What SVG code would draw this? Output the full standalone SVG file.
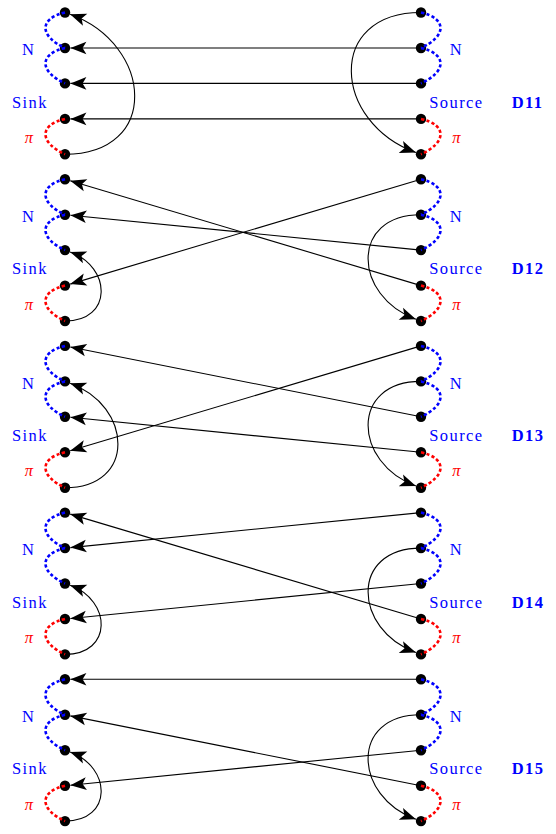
<svg xmlns="http://www.w3.org/2000/svg" width="556" height="834" viewBox="0 0 556 834">
  <defs>
    <marker id="ah" markerUnits="userSpaceOnUse" markerWidth="18" markerHeight="14" refX="16" refY="6.5" orient="auto" overflow="visible">
      <path d="M16,6.5 L0,0.2 L3.8,6.5 L0,12.8 Z" fill="#000"/>
    </marker>
    <style>
      .bg { fill: #fff; }
      .ln { fill: none; stroke: #000; stroke-width: 1.1; marker-end: url(#ah); }
      .node { fill: #000; }
      .ch { fill: none; stroke-width: 2.6; stroke-dasharray: 3.2 2.3; }
      .ch.b { stroke: #0000ff; }
      .ch.r { stroke: #ff0000; }
      .lbl { font-family: "Liberation Serif", "Times New Roman", serif; font-size: 16.5px; letter-spacing: 1.4px; }
      .blue { fill: #0000ff; }
      .red { fill: #ff0000; }
      .ttl { font-weight: bold; }
      .pi { font-style: italic; letter-spacing: 0; }
      .mid { text-anchor: middle; }
    </style>
  </defs>
  <rect class="bg" x="0" y="0" width="556" height="834"/>

  <!-- connectors: straight links right to left, and the bent links on each side -->
  <g id="connectors">
    <!-- D11 -->
    <path class="ln" d="M421,48 L70.4,48"/>
    <path class="ln" d="M421,83.4 L70.4,83.4"/>
    <path class="ln" d="M421,118.9 L70.4,118.9"/>
    <path class="ln" d="M65,154.3 C160.7,154.3 153.4,44.6 70.1,14.3"/>
    <path class="ln" d="M421,12.5 C325.3,12.5 332.6,122.2 415.9,152.5"/>
    <!-- D12 -->
    <path class="ln" d="M421,179.2 L70.2,284.1"/>
    <path class="ln" d="M421,250.1 L70.4,215.2"/>
    <path class="ln" d="M421,285.6 L70.2,180.7"/>
    <path class="ln" d="M65,321 C112.9,321 111.8,267.1 70.1,251.9"/>
    <path class="ln" d="M421,214.7 C349.2,214.7 353.4,296.5 415.9,319.2"/>
    <!-- D13 -->
    <path class="ln" d="M421,416.8 L70.3,347"/>
    <path class="ln" d="M421,452.3 L70.4,417.3"/>
    <path class="ln" d="M421,345.9 L70.2,450.8"/>
    <path class="ln" d="M65,487.7 C136.8,487.7 132.6,405.9 70.1,383.2"/>
    <path class="ln" d="M421,381.4 C349.2,381.4 353.4,463.2 415.9,485.9"/>
    <!-- D14 -->
    <path class="ln" d="M421,619 L70.2,514.1"/>
    <path class="ln" d="M421,512.6 L70.4,547.6"/>
    <path class="ln" d="M421,583.5 L70.4,618.5"/>
    <path class="ln" d="M65,654.4 C112.9,654.4 111.8,600.5 70.1,585.3"/>
    <path class="ln" d="M421,548.1 C349.2,548.1 353.4,629.9 415.9,652.6"/>
    <!-- D15 -->
    <path class="ln" d="M421,679.3 L70.4,679.3"/>
    <path class="ln" d="M421,785.7 L70.3,715.9"/>
    <path class="ln" d="M421,750.2 L70.4,785.2"/>
    <path class="ln" d="M65,821.1 C112.9,821.1 111.8,767.2 70.1,752"/>
    <path class="ln" d="M421,714.8 C349.2,714.8 353.4,796.6 415.9,819.3"/>
  </g>

  <!-- D11 -->
  <g id="d11">
    <g id="d11-sink-1"><circle class="node" cx="65" cy="12.5" r="5.2"/></g>
    <g id="d11-sink-2"><circle class="node" cx="65" cy="48" r="5.2"/></g>
    <g id="d11-sink-3"><circle class="node" cx="65" cy="83.4" r="5.2"/></g>
    <g id="d11-sink-4"><circle class="node" cx="65" cy="118.9" r="5.2"/></g>
    <g id="d11-sink-5"><circle class="node" cx="65" cy="154.3" r="5.2"/></g>
    <g id="d11-source-1"><circle class="node" cx="421" cy="12.5" r="5.2"/></g>
    <g id="d11-source-2"><circle class="node" cx="421" cy="48" r="5.2"/></g>
    <g id="d11-source-3"><circle class="node" cx="421" cy="83.4" r="5.2"/></g>
    <g id="d11-source-4"><circle class="node" cx="421" cy="118.9" r="5.2"/></g>
    <g id="d11-source-5"><circle class="node" cx="421" cy="154.3" r="5.2"/></g>
    <path class="ch b" d="M65,12.5 C39,18.5 39,36 65,48"/>
    <path class="ch b" d="M65,48 C39,54 39,71.4 65,83.4"/>
    <path class="ch r" d="M65,118.9 C39,124.9 39,142.3 65,154.3"/>
    <path class="ch b" d="M421,12.5 C447,18.5 447,36 421,48"/>
    <path class="ch b" d="M421,48 C447,54 447,71.4 421,83.4"/>
    <path class="ch r" d="M421,118.9 C447,124.9 447,142.3 421,154.3"/>
    <text class="lbl blue mid" x="28.7" y="55.3">N</text>
    <text class="lbl blue" x="12" y="107.5">Sink</text>
    <text class="lbl red pi mid" x="29" y="143">π</text>
    <text class="lbl blue mid" x="456.5" y="55.3">N</text>
    <text class="lbl blue" x="429.3" y="107.5">Source</text>
    <text class="lbl blue ttl" x="511.7" y="107.5">D11</text>
    <text class="lbl red pi mid" x="456.3" y="143">π</text>
  </g>

  <!-- D12 -->
  <g id="d12">
    <g id="d12-sink-1"><circle class="node" cx="65" cy="179.2" r="5.2"/></g>
    <g id="d12-sink-2"><circle class="node" cx="65" cy="214.7" r="5.2"/></g>
    <g id="d12-sink-3"><circle class="node" cx="65" cy="250.1" r="5.2"/></g>
    <g id="d12-sink-4"><circle class="node" cx="65" cy="285.6" r="5.2"/></g>
    <g id="d12-sink-5"><circle class="node" cx="65" cy="321" r="5.2"/></g>
    <g id="d12-source-1"><circle class="node" cx="421" cy="179.2" r="5.2"/></g>
    <g id="d12-source-2"><circle class="node" cx="421" cy="214.7" r="5.2"/></g>
    <g id="d12-source-3"><circle class="node" cx="421" cy="250.1" r="5.2"/></g>
    <g id="d12-source-4"><circle class="node" cx="421" cy="285.6" r="5.2"/></g>
    <g id="d12-source-5"><circle class="node" cx="421" cy="321" r="5.2"/></g>
    <path class="ch b" d="M65,179.2 C39,185.2 39,202.7 65,214.7"/>
    <path class="ch b" d="M65,214.7 C39,220.7 39,238.1 65,250.1"/>
    <path class="ch r" d="M65,285.6 C39,291.6 39,309 65,321"/>
    <path class="ch b" d="M421,179.2 C447,185.2 447,202.7 421,214.7"/>
    <path class="ch b" d="M421,214.7 C447,220.7 447,238.1 421,250.1"/>
    <path class="ch r" d="M421,285.6 C447,291.6 447,309 421,321"/>
    <text class="lbl blue mid" x="28.7" y="222">N</text>
    <text class="lbl blue" x="12" y="274.2">Sink</text>
    <text class="lbl red pi mid" x="29" y="309.7">π</text>
    <text class="lbl blue mid" x="456.5" y="222">N</text>
    <text class="lbl blue" x="429.3" y="274.2">Source</text>
    <text class="lbl blue ttl" x="511.7" y="274.2">D12</text>
    <text class="lbl red pi mid" x="456.3" y="309.7">π</text>
  </g>

  <!-- D13 -->
  <g id="d13">
    <g id="d13-sink-1"><circle class="node" cx="65" cy="345.9" r="5.2"/></g>
    <g id="d13-sink-2"><circle class="node" cx="65" cy="381.4" r="5.2"/></g>
    <g id="d13-sink-3"><circle class="node" cx="65" cy="416.8" r="5.2"/></g>
    <g id="d13-sink-4"><circle class="node" cx="65" cy="452.3" r="5.2"/></g>
    <g id="d13-sink-5"><circle class="node" cx="65" cy="487.7" r="5.2"/></g>
    <g id="d13-source-1"><circle class="node" cx="421" cy="345.9" r="5.2"/></g>
    <g id="d13-source-2"><circle class="node" cx="421" cy="381.4" r="5.2"/></g>
    <g id="d13-source-3"><circle class="node" cx="421" cy="416.8" r="5.2"/></g>
    <g id="d13-source-4"><circle class="node" cx="421" cy="452.3" r="5.2"/></g>
    <g id="d13-source-5"><circle class="node" cx="421" cy="487.7" r="5.2"/></g>
    <path class="ch b" d="M65,345.9 C39,351.9 39,369.4 65,381.4"/>
    <path class="ch b" d="M65,381.4 C39,387.4 39,404.8 65,416.8"/>
    <path class="ch r" d="M65,452.3 C39,458.3 39,475.7 65,487.7"/>
    <path class="ch b" d="M421,345.9 C447,351.9 447,369.4 421,381.4"/>
    <path class="ch b" d="M421,381.4 C447,387.4 447,404.8 421,416.8"/>
    <path class="ch r" d="M421,452.3 C447,458.3 447,475.7 421,487.7"/>
    <text class="lbl blue mid" x="28.7" y="388.7">N</text>
    <text class="lbl blue" x="12" y="440.9">Sink</text>
    <text class="lbl red pi mid" x="29" y="476.4">π</text>
    <text class="lbl blue mid" x="456.5" y="388.7">N</text>
    <text class="lbl blue" x="429.3" y="440.9">Source</text>
    <text class="lbl blue ttl" x="511.7" y="440.9">D13</text>
    <text class="lbl red pi mid" x="456.3" y="476.4">π</text>
  </g>

  <!-- D14 -->
  <g id="d14">
    <g id="d14-sink-1"><circle class="node" cx="65" cy="512.6" r="5.2"/></g>
    <g id="d14-sink-2"><circle class="node" cx="65" cy="548.1" r="5.2"/></g>
    <g id="d14-sink-3"><circle class="node" cx="65" cy="583.5" r="5.2"/></g>
    <g id="d14-sink-4"><circle class="node" cx="65" cy="619" r="5.2"/></g>
    <g id="d14-sink-5"><circle class="node" cx="65" cy="654.4" r="5.2"/></g>
    <g id="d14-source-1"><circle class="node" cx="421" cy="512.6" r="5.2"/></g>
    <g id="d14-source-2"><circle class="node" cx="421" cy="548.1" r="5.2"/></g>
    <g id="d14-source-3"><circle class="node" cx="421" cy="583.5" r="5.2"/></g>
    <g id="d14-source-4"><circle class="node" cx="421" cy="619" r="5.2"/></g>
    <g id="d14-source-5"><circle class="node" cx="421" cy="654.4" r="5.2"/></g>
    <path class="ch b" d="M65,512.6 C39,518.6 39,536.1 65,548.1"/>
    <path class="ch b" d="M65,548.1 C39,554.1 39,571.5 65,583.5"/>
    <path class="ch r" d="M65,619 C39,625 39,642.4 65,654.4"/>
    <path class="ch b" d="M421,512.6 C447,518.6 447,536.1 421,548.1"/>
    <path class="ch b" d="M421,548.1 C447,554.1 447,571.5 421,583.5"/>
    <path class="ch r" d="M421,619 C447,625 447,642.4 421,654.4"/>
    <text class="lbl blue mid" x="28.7" y="555.4">N</text>
    <text class="lbl blue" x="12" y="607.6">Sink</text>
    <text class="lbl red pi mid" x="29" y="643.1">π</text>
    <text class="lbl blue mid" x="456.5" y="555.4">N</text>
    <text class="lbl blue" x="429.3" y="607.6">Source</text>
    <text class="lbl blue ttl" x="511.7" y="607.6">D14</text>
    <text class="lbl red pi mid" x="456.3" y="643.1">π</text>
  </g>

  <!-- D15 -->
  <g id="d15">
    <g id="d15-sink-1"><circle class="node" cx="65" cy="679.3" r="5.2"/></g>
    <g id="d15-sink-2"><circle class="node" cx="65" cy="714.8" r="5.2"/></g>
    <g id="d15-sink-3"><circle class="node" cx="65" cy="750.2" r="5.2"/></g>
    <g id="d15-sink-4"><circle class="node" cx="65" cy="785.7" r="5.2"/></g>
    <g id="d15-sink-5"><circle class="node" cx="65" cy="821.1" r="5.2"/></g>
    <g id="d15-source-1"><circle class="node" cx="421" cy="679.3" r="5.2"/></g>
    <g id="d15-source-2"><circle class="node" cx="421" cy="714.8" r="5.2"/></g>
    <g id="d15-source-3"><circle class="node" cx="421" cy="750.2" r="5.2"/></g>
    <g id="d15-source-4"><circle class="node" cx="421" cy="785.7" r="5.2"/></g>
    <g id="d15-source-5"><circle class="node" cx="421" cy="821.1" r="5.2"/></g>
    <path class="ch b" d="M65,679.3 C39,685.3 39,702.8 65,714.8"/>
    <path class="ch b" d="M65,714.8 C39,720.8 39,738.2 65,750.2"/>
    <path class="ch r" d="M65,785.7 C39,791.7 39,809.1 65,821.1"/>
    <path class="ch b" d="M421,679.3 C447,685.3 447,702.8 421,714.8"/>
    <path class="ch b" d="M421,714.8 C447,720.8 447,738.2 421,750.2"/>
    <path class="ch r" d="M421,785.7 C447,791.7 447,809.1 421,821.1"/>
    <text class="lbl blue mid" x="28.7" y="722.1">N</text>
    <text class="lbl blue" x="12" y="774.3">Sink</text>
    <text class="lbl red pi mid" x="29" y="809.8">π</text>
    <text class="lbl blue mid" x="456.5" y="722.1">N</text>
    <text class="lbl blue" x="429.3" y="774.3">Source</text>
    <text class="lbl blue ttl" x="511.7" y="774.3">D15</text>
    <text class="lbl red pi mid" x="456.3" y="809.8">π</text>
  </g>
</svg>
